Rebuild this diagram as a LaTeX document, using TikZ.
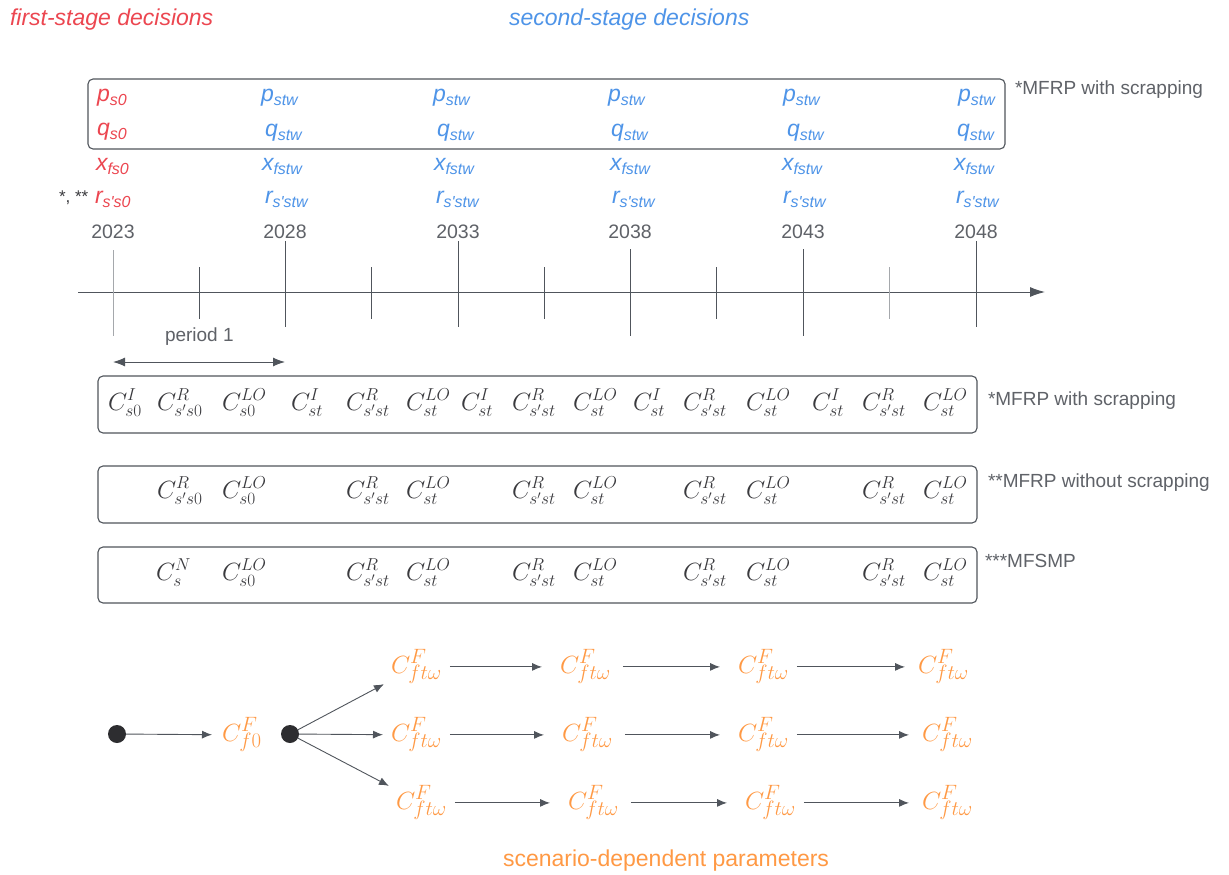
\documentclass[tikz,border=0pt]{standalone}
\usepackage{fontspec}
\setmainfont{Liberation Sans}
\usetikzlibrary{arrows.meta}

\definecolor{fsred}{RGB}{236,70,80}
\definecolor{ssblue}{RGB}{78,148,232}
\definecolor{scorange}{RGB}{255,153,68}
\definecolor{lbl}{RGB}{95,98,104}
\definecolor{ln}{RGB}{80,85,92}
\definecolor{lnlight}{RGB}{165,168,172}
\definecolor{costc}{RGB}{58,58,62}
\definecolor{dotc}{RGB}{45,45,48}

% decision variable: italic letter with a lowered, smaller index
\newcommand\dvar[2]{#1\raisebox{-4pt}{\fontsize{16}{16}\selectfont #2}}

\begin{document}
\begin{tikzpicture}[x=1pt,y=-1pt,
  every node/.style={inner sep=0pt,outer sep=0pt},
  title/.style={font=\fontsize{23}{26}\selectfont\itshape,anchor=base west},
  dvr/.style={text=fsred,font=\fontsize{23}{26}\selectfont\itshape,anchor=base west},
  dvb/.style={text=ssblue,font=\fontsize{23}{26}\selectfont\itshape,anchor=base west},
  year/.style={text=lbl,font=\fontsize{19.5}{22}\selectfont,anchor=base},
  lab/.style={text=lbl,font=\fontsize{19}{22}\selectfont,anchor=base west},
  framebox/.style={draw=ln,line width=1.1pt,rounded corners=5pt},
  cterm/.style={text=costc,font=\fontsize{24}{28}\selectfont,anchor=base west},
  fterm/.style={text=scorange,font=\fontsize{30}{33}\selectfont,anchor=base west},
  tickmark/.style={draw=ln,line width=1pt},
  lighttick/.style={draw=lnlight,line width=1pt},
  axisline/.style={draw=ln,line width=1pt,-{Latex[length=15pt,width=10pt]}},
  spanarrow/.style={draw=ln,line width=1pt,{Latex[length=12pt,width=9pt]}-{Latex[length=12pt,width=9pt]}},
  treearrow/.style={draw=ln,line width=0.9pt,-{Latex[length=10pt,width=8pt]}},
  treedot/.style={circle,fill=dotc,minimum size=18pt}
]
\useasboundingbox (0,0) rectangle (1229,875);
\fill[white] (0,0) rectangle (1229,875);

% stage headings
\node[title,text=fsred] (t1) at (10,26) {first-stage decisions};
\node[title,text=ssblue] (t2) at (509,26) {second-stage decisions};

% frame around the p and q variables
\draw[framebox] (88,79) rectangle (1005,149);
\node[lab] (l0) at (1015,95) {*MFRP with scrapping};

% first-stage variables
\node[dvr] (p0) at (97,101) {\dvar{p}{s0}};
\node[dvr] (q0) at (97,135) {\dvar{q}{s0}};
\node[dvr] (x0) at (96,170) {\dvar{x}{fs0}};
\node[dvr] (r0) at (95,203) {\dvar{r}{s\textquotesingle s0}};
\node[text=costc,font=\fontsize{17}{20}\selectfont,anchor=base west] (stars) at (59,202) {*, **};

% second-stage variables, one column per decision year
\foreach \i/\px/\qx/\xx/\rx in {1/261/265/262/265,2/433/437/434/436,3/608/611/610/612,4/783/787/782/783,5/958/957/954/956}{
  \node[dvb] (p\i) at (\px,102) {\dvar{p}{stw}};
  \node[dvb] (q\i) at (\qx,136) {\dvar{q}{stw}};
  \node[dvb] (x\i) at (\xx,170) {\dvar{x}{fstw}};
  \node[dvb] (r\i) at (\rx,203) {\dvar{r}{s\textquotesingle stw}};
}

% years
\foreach \i/\x/\yr in {0/113/2023,1/285/2028,2/458/2033,3/630/2038,4/803/2043,5/976/2048}{
  \node[year] (y\i) at (\x,238) {\yr};
}

% time axis
\coordinate (ax0) at (78,292);
\coordinate (ax1) at (1045,292);
\draw[axisline] (ax0) -- (ax1);
\draw[lighttick] (113,250) -- (113,336);
\draw[tickmark] (285,241) -- (285,327);
\draw[tickmark] (458,241) -- (458,327);
\draw[tickmark] (630,249) -- (630,336);
\draw[tickmark] (803,249) -- (803,336);
\draw[tickmark] (976,241) -- (976,327);
\foreach \x in {199,371,544,716}{
  \draw[tickmark] (\x,267) -- (\x,319);
}
\draw[lighttick] (889,267) -- (889,319);

% length of one period
\node[lab] (per) at (165,341) {period 1};
\coordinate (pa) at (113,362);
\coordinate (pb) at (285,362);
\draw[spanarrow] (pa) -- (pb);

% cost terms per model variant
\draw[framebox] (98,376) rectangle (977,433);
\node[lab] (l1) at (988,405) {*MFRP with scrapping};
\node[cterm] (a1) at (108,410) {$C^{I}_{s0}$};
\node[cterm] (a2) at (157,410) {$C^{R}_{s's0}$};
\node[cterm] (a3) at (222,410) {$C^{LO}_{s0}$};
\node[cterm] (a4) at (291,410) {$C^{I}_{st}$};
\node[cterm] (a5) at (346,410) {$C^{R}_{s'st}$};
\node[cterm] (a6) at (406,410) {$C^{LO}_{st}$};
\node[cterm] (a7) at (461,410) {$C^{I}_{st}$};
\node[cterm] (a8) at (512,410) {$C^{R}_{s'st}$};
\node[cterm] (a9) at (573,410) {$C^{LO}_{st}$};
\node[cterm] (a10) at (633,410) {$C^{I}_{st}$};
\node[cterm] (a11) at (683,410) {$C^{R}_{s'st}$};
\node[cterm] (a12) at (746,410) {$C^{LO}_{st}$};
\node[cterm] (a13) at (812,410) {$C^{I}_{st}$};
\node[cterm] (a14) at (862,410) {$C^{R}_{s'st}$};
\node[cterm] (a15) at (923,410) {$C^{LO}_{st}$};

\draw[framebox] (98,466) rectangle (977,523);
\node[lab] (l2) at (988,487) {**MFRP without scrapping};
\node[cterm] (b2) at (157,498) {$C^{R}_{s's0}$};
\node[cterm] (b3) at (222,498) {$C^{LO}_{s0}$};
\node[cterm] (b5) at (346,498) {$C^{R}_{s'st}$};
\node[cterm] (b6) at (406,498) {$C^{LO}_{st}$};
\node[cterm] (b8) at (512,498) {$C^{R}_{s'st}$};
\node[cterm] (b9) at (573,498) {$C^{LO}_{st}$};
\node[cterm] (b11) at (683,498) {$C^{R}_{s'st}$};
\node[cterm] (b12) at (746,498) {$C^{LO}_{st}$};
\node[cterm] (b14) at (862,498) {$C^{R}_{s'st}$};
\node[cterm] (b15) at (923,498) {$C^{LO}_{st}$};

\draw[framebox] (98,547) rectangle (977,603);
\node[lab] (l3) at (985,567) {***MFSMP};
\node[cterm] (c2) at (156,580) {$C^{N}_{s}$};
\node[cterm] (c3) at (222,580) {$C^{LO}_{s0}$};
\node[cterm] (c5) at (346,580) {$C^{R}_{s'st}$};
\node[cterm] (c6) at (406,580) {$C^{LO}_{st}$};
\node[cterm] (c8) at (512,580) {$C^{R}_{s'st}$};
\node[cterm] (c9) at (573,580) {$C^{LO}_{st}$};
\node[cterm] (c11) at (683,580) {$C^{R}_{s'st}$};
\node[cterm] (c12) at (746,580) {$C^{LO}_{st}$};
\node[cterm] (c14) at (862,580) {$C^{R}_{s'st}$};
\node[cterm] (c15) at (923,580) {$C^{LO}_{st}$};

% scenario tree of fixed costs
\node[treedot] (d1) at (117,734) {};
\node[treedot] (d2) at (290,734) {};
\node[fterm] (f0) at (222,741) {$C^{F}_{f0}$};

\node[fterm] (u1) at (391,673) {$C^{F}_{ft\omega}$};
\node[fterm] (u2) at (560,673) {$C^{F}_{ft\omega}$};
\node[fterm] (u3) at (738,673) {$C^{F}_{ft\omega}$};
\node[fterm] (u4) at (918,673) {$C^{F}_{ft\omega}$};

\node[fterm] (m1) at (391,741) {$C^{F}_{ft\omega}$};
\node[fterm] (m2) at (562,741) {$C^{F}_{ft\omega}$};
\node[fterm] (m3) at (738,741) {$C^{F}_{ft\omega}$};
\node[fterm] (m4) at (922,741) {$C^{F}_{ft\omega}$};

\node[fterm] (w1) at (396,809) {$C^{F}_{ft\omega}$};
\node[fterm] (w2) at (568,809) {$C^{F}_{ft\omega}$};
\node[fterm] (w3) at (745,809) {$C^{F}_{ft\omega}$};
\node[fterm] (w4) at (922,809) {$C^{F}_{ft\omega}$};

\draw[treearrow,shorten >=10pt] (d1) -- (f0);
\draw[treearrow,shorten >=8pt] (d2) -- (u1);
\draw[treearrow,shorten >=8pt] (d2) -- (m1);
\draw[treearrow,shorten >=8pt] (d2) -- (w1);
\foreach \r in {u,m,w}{
  \draw[treearrow,shorten <=8pt,shorten >=18pt] (\r1) -- (\r2);
  \draw[treearrow,shorten <=12pt,shorten >=18pt] (\r2) -- (\r3);
  \draw[treearrow,shorten <=8pt,shorten >=13pt] (\r3) -- (\r4);
}

\node[text=scorange,font=\fontsize{23}{26}\selectfont,anchor=base west] (sc) at (503,866) {scenario-dependent parameters};
\end{tikzpicture}
\end{document}
